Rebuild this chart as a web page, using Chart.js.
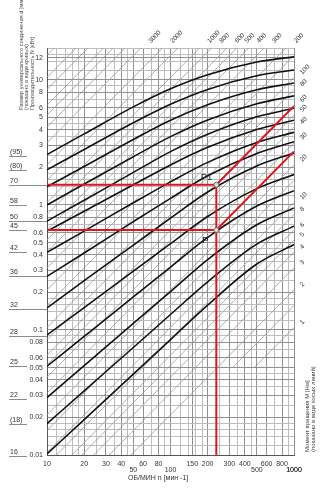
<!DOCTYPE html>
<html>
<head>
<meta charset="utf-8">
<script src="https://cdn.jsdelivr.net/npm/chart.js@4.4.1/dist/chart.umd.min.js"></script>
<style>
  html, body { margin: 0; padding: 0; background: #fff; }
  #wrap { position: relative; width: 323px; height: 500px; }
</style>
</head>
<body>
<div id="wrap"><canvas id="nomogram"></canvas></div>
<script>
(function () {
    // ОБ/МИН n, в которых сняты точки кривых
    const speeds = [10, 20, 50, 100, 200, 500, 1000];

    // Кривые размеров соединения d: производительность N [кВт] при speeds
    const curveD95 = [2.53, 3.70, 6.09, 8.49, 11.0, 13.9, 15.3];
    const curveD80 = [1.91, 2.78, 4.55, 6.39, 8.40, 10.8, 12.0];
    const curveD70 = [1.40, 2.03, 3.34, 4.76, 6.33, 8.34, 9.44];
    const curveD58 = [1.00, 1.47, 2.43, 3.52, 4.79, 6.45, 7.45];
    const curveD50 = [0.743, 1.09, 1.82, 2.67, 3.68, 5.07, 5.93];
    const curveD45 = [0.617, 0.891, 1.45, 2.09, 2.89, 4.01, 4.76];
    const curveD42 = [0.418, 0.618, 1.04, 1.53, 2.19, 3.16, 3.81];
    const curveD36 = [0.268, 0.413, 0.735, 1.13, 1.71, 2.58, 3.20];
    const curveD32 = [0.150, 0.248, 0.477, 0.784, 1.27, 2.05, 2.60];
    const curveD28 = [0.0912, 0.151, 0.295, 0.490, 0.808, 1.35, 1.75];
    const curveD25 = [0.0513, 0.0888, 0.184, 0.318, 0.550, 0.980, 1.30];
    const curveD22 = [0.0288, 0.0519, 0.113, 0.203, 0.366, 0.695, 0.946];
    const curveD18 = [0.0178, 0.0326, 0.0724, 0.133, 0.243, 0.486, 0.676];
    const curveD16 = [0.0102, 0.0192, 0.0444, 0.0838, 0.158, 0.337, 0.482];

    // Шкала d слева
    const sizeLabels = ['(95)', '(80)', '70', '58', '50', '45', '42', '36', '32', '28', '25', '22', '(18)', '16'];
    const sizeLevels = [2.48, 1.91, 1.45, 1.0, 0.743, 0.63, 0.418, 0.268, 0.148, 0.0894, 0.0513, 0.0282, 0.0178, 0.0098];

    // Момент вращения M [Нм] (косые линии) и подписанные из них
    const torqueValues = [1, 1.5, 2, 3, 4, 5, 6, 8, 10, 15, 20, 30, 40, 50, 60, 80, 100, 150, 200,
        300, 400, 500, 600, 800, 1000, 1500, 2000, 3000, 4000, 5000, 6000, 8000, 10000, 15000];
    const torqueLabels = [1, 2, 3, 4, 5, 6, 8, 10, 20, 30, 40, 50, 60, 80, 100, 200, 300, 400, 500,
        600, 800, 1000, 2000, 3000];

    // Рабочие точки P1 и P, концы красных линий при n = 1000
    const pointP1 = [235, 1.45];
    const pointP = [235, 0.63];
    const redEndP1 = 6.17;
    const redEndP = 2.68;

    // Подписи осей
    const xTickValues = [10, 20, 30, 40, 50, 60, 80, 100, 150, 200, 300, 400, 500, 600, 800, 1000];
    const xTickLabels = ['10', '20', '30', '40', '50', '60', '80', '100', '150', '200', '300', '400', '500', '600', '800', '1000'];
    const yTickValues = [15, 10, 8, 6, 5, 4, 3, 2, 1, 0.8, 0.6, 0.5, 0.4, 0.3, 0.2, 0.1, 0.08, 0.06, 0.05, 0.04, 0.03, 0.02, 0.01];
    const yTickLabels = ['12', '10', '8', '6', '5', '4', '3', '2', '1', '0.8', '0.6', '0.5', '0.4', '0.3', '0.2', '0.1', '0.08', '0.06', '0.05', '0.04', '0.03', '0.02', '0.01'];
    const gridSteps = [1, 1.2, 1.4, 1.6, 1.8, 2, 2.5, 3, 3.5, 4, 4.5, 5, 6, 7, 8, 9];

    const xMin = 10, xMax = 1000, yMin = 0.01, yMax = 18;
    const torqueFloor = 0.05; // линии 1 и 1.5 Нм обрываются на этом уровне
    const FONT = '"Liberation Sans", Arial, sans-serif';

    function buildGrid(min, max, extra) {
        const out = [];
        for (let dec = min; dec < max * 1.0001; dec *= 10) {
            gridSteps.forEach(s => {
                const v = +(dec * s).toPrecision(6);
                if (v >= min * 0.9999 && v <= max * 1.0001) out.push(v);
            });
        }
        extra.forEach(v => { if (!out.some(o => Math.abs(o - v) / v < 1e-6)) out.push(v); });
        out.push(max);
        return out.sort((a, b) => a - b);
    }
    const xGrid = buildGrid(xMin, xMax, xTickValues);
    const yGrid = buildGrid(yMin, yMax, yTickValues);
    const findIdx = (arr, v) => arr.findIndex(t => Math.abs(t - v) / t < 1e-6);

    const datasets = [];

    // косые линии момента
    torqueValues.forEach(m => {
        let n0 = xMin;
        if (m < 2) n0 = torqueFloor * 9550 / m;
        datasets.push({
            data: [{ x: n0, y: m * n0 / 9550 }, { x: xMax, y: m * xMax / 9550 }],
            showLine: true, borderColor: '#9a9a9a', borderWidth: 0.8, pointRadius: 0, order: 3
        });
    });

    // кривые размеров
    [curveD95, curveD80, curveD70, curveD58, curveD50, curveD45, curveD42, curveD36,
        curveD32, curveD28, curveD25, curveD22, curveD18, curveD16].forEach(arr => {
        datasets.push({
            data: arr.map((v, i) => ({ x: speeds[i], y: v })),
            showLine: true, borderColor: '#111', borderWidth: 1.6, pointRadius: 0,
            cubicInterpolationMode: 'monotone', order: 2
        });
    });

    // красные линии построения
    const red = (pts) => ({
        data: pts.map(p => ({ x: p[0], y: p[1] })),
        showLine: true, borderColor: '#e3141c', borderWidth: 2, pointRadius: 0, order: 1
    });
    datasets.push(red([[xMin, pointP1[1]], pointP1]));
    datasets.push(red([[xMin, pointP[1]], pointP]));
    datasets.push(red([pointP1, [pointP1[0], yMin]]));
    datasets.push(red([pointP1, [xMax, redEndP1]]));
    datasets.push(red([pointP, [xMax, redEndP]]));
    datasets.push({
        data: [{ x: pointP1[0], y: pointP1[1] }, { x: pointP[0], y: pointP[1] }],
        showLine: false, pointRadius: 2.5, pointBackgroundColor: '#ddd',
        pointBorderColor: '#666', pointBorderWidth: 1, order: 0
    });

    const annotations = {
        id: 'annotations',
        afterDraw(chart) {
            const c = chart.ctx, xs = chart.scales.x, ys = chart.scales.y, area = chart.chartArea;
            c.save();

            // шкала d слева с подчёркиваниями
            const longLines = ['70', '50', '36', '32', '28'];
            c.font = '7px ' + FONT;
            c.lineWidth = 1;
            c.strokeStyle = '#8c8c8c';
            c.fillStyle = '#333';
            c.textAlign = 'left';
            c.textBaseline = 'bottom';
            sizeLabels.forEach((lab, i) => {
                const y = Math.round(ys.getPixelForValue(sizeLevels[i])) + 0.5;
                const end = longLines.includes(lab) ? area.left : 27;
                c.beginPath(); c.moveTo(9, y); c.lineTo(end, y); c.stroke();
                c.fillText(lab, 10, y - 1);
            });

            // повёрнутые заголовки
            const vText = (txt, x, y, size) => {
                c.save();
                c.translate(x, y);
                c.rotate(-Math.PI / 2);
                c.font = size + 'px ' + FONT;
                c.textAlign = 'left';
                c.textBaseline = 'middle';
                c.fillText(txt, 0, 0);
                c.restore();
            };
            c.fillStyle = '#444';
            vText('Размер универсального соединения d [мм]', 21, 110, 5.6);
            vText('(показано в виде кривых)', 26.5, 110, 5.6);
            vText('Производительность N [кВт]', 32, 110, 5.6);
            vText('Момент вращения M [Нм]', 307, 452, 6);
            vText('(показано в виде косых линий)', 313, 452, 6);

            // подписи косых линий
            c.fillStyle = '#333';
            c.font = '6.5px ' + FONT;
            torqueLabels.forEach(m => {
                let px, py, dx, dy;
                if (m * xMax / 9550 <= yMax) {
                    px = xs.getPixelForValue(xMax); py = ys.getPixelForValue(m * xMax / 9550);
                    dx = 7; dy = -4;
                } else {
                    px = xs.getPixelForValue(yMax * 9550 / m); py = ys.getPixelForValue(yMax);
                    dx = 9; dy = -6;
                }
                c.save();
                c.translate(px + dx, py + dy);
                c.rotate(-Math.PI / 4);
                c.textAlign = 'left';
                c.textBaseline = 'middle';
                c.fillText(String(m), 0, 0);
                c.restore();
            });

            // точки P1 и P
            c.font = '9.5px ' + FONT;
            c.fillStyle = '#222';
            c.textBaseline = 'middle';
            c.textAlign = 'right';
            c.fillText('P1', xs.getPixelForValue(pointP1[0]) - 4, ys.getPixelForValue(pointP1[1]) - 7);
            c.textAlign = 'center';
            c.fillText('P', xs.getPixelForValue(pointP[0]) - 11, ys.getPixelForValue(pointP[1]) + 10);

            // подпись оси X
            c.font = '7px ' + FONT;
            c.fillStyle = '#333';
            c.textAlign = 'center';
            c.fillText('ОБ/МИН n [мин -1]', area.left + 0.45 * (area.right - area.left), 478);
            c.restore();
        }
    };

    const staggered = [50, 100, 500, 1000];

    new Chart(ctx(), {
        type: 'scatter',
        data: { datasets: datasets },
        options: {
            responsive: true,
            maintainAspectRatio: false,
            animation: false,
            layout: { padding: { top: 48, right: 29, left: 0, bottom: 0 } },
            plugins: { legend: { display: false }, tooltip: { enabled: false } },
            scales: {
                x: {
                    type: 'logarithmic', min: xMin, max: xMax,
                    afterBuildTicks: s => { s.ticks = xGrid.map(v => ({ value: v })); },
                    afterFit: s => { s.height = 45; },
                    grid: {
                        drawTicks: false, lineWidth: 1,
                        color: c => (findIdx(xTickValues, c.tick.value) >= 0 ? '#8f8f8f' : '#bdbdbd')
                    },
                    border: { display: true, color: '#555', width: 1 },
                    ticks: {
                        autoSkip: false, maxRotation: 0, padding: 6, color: '#333',
                        font: { size: 7, family: FONT, lineHeight: 0.85 },
                        callback: function (value) {
                            const i = findIdx(xTickValues, value);
                            if (i < 0) return '';
                            return staggered.includes(xTickValues[i]) ? ['', xTickLabels[i]] : xTickLabels[i];
                        }
                    }
                },
                y: {
                    type: 'logarithmic', min: yMin, max: yMax,
                    afterBuildTicks: s => { s.ticks = yGrid.map(v => ({ value: v })); },
                    afterFit: s => { s.width = 47; },
                    grid: {
                        drawTicks: false, lineWidth: 1,
                        color: c => (findIdx(yTickValues, c.tick.value) >= 0 ? '#8f8f8f' : '#bdbdbd')
                    },
                    border: { display: true, color: '#555', width: 1 },
                    ticks: {
                        autoSkip: false, padding: 4, color: '#333',
                        font: { size: 7, family: FONT },
                        callback: function (value) {
                            const i = findIdx(yTickValues, value);
                            return i < 0 ? '' : yTickLabels[i];
                        }
                    }
                }
            }
        },
        plugins: [annotations]
    });

    function ctx() { return document.getElementById('nomogram').getContext('2d'); }
})();
</script>
</body>
</html>
